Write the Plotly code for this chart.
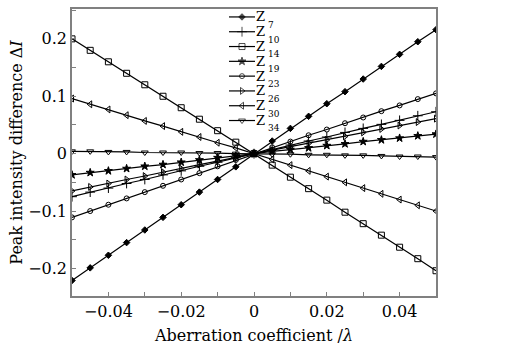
import plotly.graph_objects as go

x = [-0.05, -0.045, -0.04, -0.035, -0.03, -0.025, -0.02, -0.015, -0.01, -0.005, 0.0,
     0.005, 0.01, 0.015, 0.02, 0.025, 0.03, 0.035, 0.04, 0.045, 0.05]

z7 = [-0.221, -0.199, -0.177, -0.155, -0.133, -0.111, -0.089, -0.067, -0.045, -0.023, 0.000,
      0.022, 0.044, 0.065, 0.087, 0.108, 0.130, 0.152, 0.173, 0.195, 0.216]
z10 = [-0.075, -0.067, -0.060, -0.052, -0.045, -0.037, -0.030, -0.022, -0.015, -0.007, 0.000,
       0.007, 0.015, 0.022, 0.029, 0.037, 0.044, 0.051, 0.058, 0.066, 0.073]
z14 = [0.200, 0.180, 0.160, 0.140, 0.120, 0.100, 0.080, 0.060, 0.040, 0.020, 0.000,
       -0.020, -0.041, -0.061, -0.081, -0.102, -0.122, -0.142, -0.163, -0.183, -0.204]
z19 = [-0.037, -0.033, -0.030, -0.026, -0.022, -0.019, -0.015, -0.011, -0.007, -0.004, 0.000,
       0.004, 0.007, 0.010, 0.014, 0.017, 0.021, 0.024, 0.027, 0.031, 0.034]
z23 = [-0.111, -0.100, -0.089, -0.078, -0.067, -0.056, -0.045, -0.034, -0.022, -0.011, 0.000,
       0.011, 0.021, 0.032, 0.042, 0.053, 0.063, 0.074, 0.084, 0.095, 0.105]
z26 = [-0.065, -0.058, -0.052, -0.045, -0.039, -0.032, -0.026, -0.019, -0.013, -0.006, 0.000,
       0.006, 0.012, 0.018, 0.024, 0.030, 0.037, 0.043, 0.049, 0.055, 0.061]
z30 = [0.096, 0.086, 0.077, 0.067, 0.057, 0.048, 0.038, 0.029, 0.019, 0.010, 0.000,
       -0.010, -0.020, -0.030, -0.040, -0.050, -0.060, -0.070, -0.080, -0.090, -0.100]
z34 = [0.004, 0.004, 0.003, 0.003, 0.002, 0.002, 0.002, 0.001, 0.001, 0.000, 0.000,
       -0.001, -0.001, -0.002, -0.002, -0.003, -0.003, -0.004, -0.005, -0.005, -0.006]

series_names = ["7", "10", "14", "19", "23", "26", "30", "34"]
series_values = [z7, z10, z14, z19, z23, z26, z30, z34]
symbols = ["diamond", "cross-thin-open", "square-open", "star", "circle-open",
           "triangle-right-open", "triangle-left-open", "triangle-down-open"]
sizes = [5, 7, 6, 6, 5, 6, 6, 6]

FONT = "DejaVu Serif"
AX = "#808080"

fig = go.Figure()
for name, vals, sym, sz in zip(series_names, series_values, symbols, sizes):
    fig.add_trace(go.Scatter(
        x=x, y=vals, mode="lines+markers", showlegend=False,
        line=dict(color="black", width=1.2),
        marker=dict(symbol=sym, size=sz, color="black", line=dict(color="black", width=1)),
    ))

# manual legend (in a 0..1 overlay coordinate system covering the plot area)
W, H = 527, 349
L, R, T, B = 72, 91, 7, 53
pw, ph = W - L - R, H - T - B
row0, rowgap = 15, 14.9
for i, (name, sym, sz) in enumerate(zip(series_names, symbols, sizes)):
    py = row0 + rowgap * i
    yy = (H - B - py) / ph
    xs = [(229 - L) / pw, (242 - L) / pw, (255 - L) / pw]
    fig.add_trace(go.Scatter(
        x=xs, y=[yy, yy, yy], xaxis="x2", yaxis="y2", mode="lines+markers",
        showlegend=False, line=dict(color="black", width=1.2),
        marker=dict(symbol=[sym, sym, sym], size=[0, sz, 0], color="black",
                    line=dict(color="black", width=1)),
        hoverinfo="skip",
    ))
    fig.add_annotation(x=(255 - L) / pw, y=yy, xref="x2", yref="y2", text="Z",
                       showarrow=False, xanchor="left", yanchor="middle", borderpad=0,
                       font=dict(family=FONT, size=13, color="black"))
    fig.add_annotation(x=(267 - L) / pw, y=yy - 8 / ph, xref="x2", yref="y2", text=name,
                       showarrow=False, xanchor="left", yanchor="middle", borderpad=0,
                       font=dict(family=FONT, size=9, color="black"))

fig.update_layout(
    width=W, height=H,
    margin=dict(l=L, r=R, t=T, b=B),
    paper_bgcolor="white", plot_bgcolor="white",
    font=dict(family=FONT, size=16, color="black"),
    xaxis=dict(range=[-0.05, 0.05], dtick=0.02, tick0=0, ticks="inside", ticklen=4,
               tickcolor=AX, showline=True, linecolor=AX, linewidth=1.5, mirror=True,
               showgrid=False, zeroline=False,
               minor=dict(dtick=0.01, ticks="inside", ticklen=4, tickcolor=AX),
               title=dict(text="Aberration coefficient /<i>λ</i>", standoff=10,
                          font=dict(size=16))),
    yaxis=dict(range=[-0.248, 0.252], dtick=0.1, tick0=0, ticks="inside", ticklen=4,
               tickcolor=AX, showline=True, linecolor=AX, linewidth=1.5, mirror=True,
               showgrid=False, zeroline=False,
               minor=dict(dtick=0.05, ticks="inside", ticklen=4, tickcolor=AX),
               title=dict(text="Peak intensity difference Δ<i>I</i>", standoff=2,
                          font=dict(size=16))),
    xaxis2=dict(overlaying="x", range=[0, 1], visible=False, anchor="y2"),
    yaxis2=dict(overlaying="y", range=[0, 1], visible=False, anchor="x2"),
)

fig.write_html("out.html")
